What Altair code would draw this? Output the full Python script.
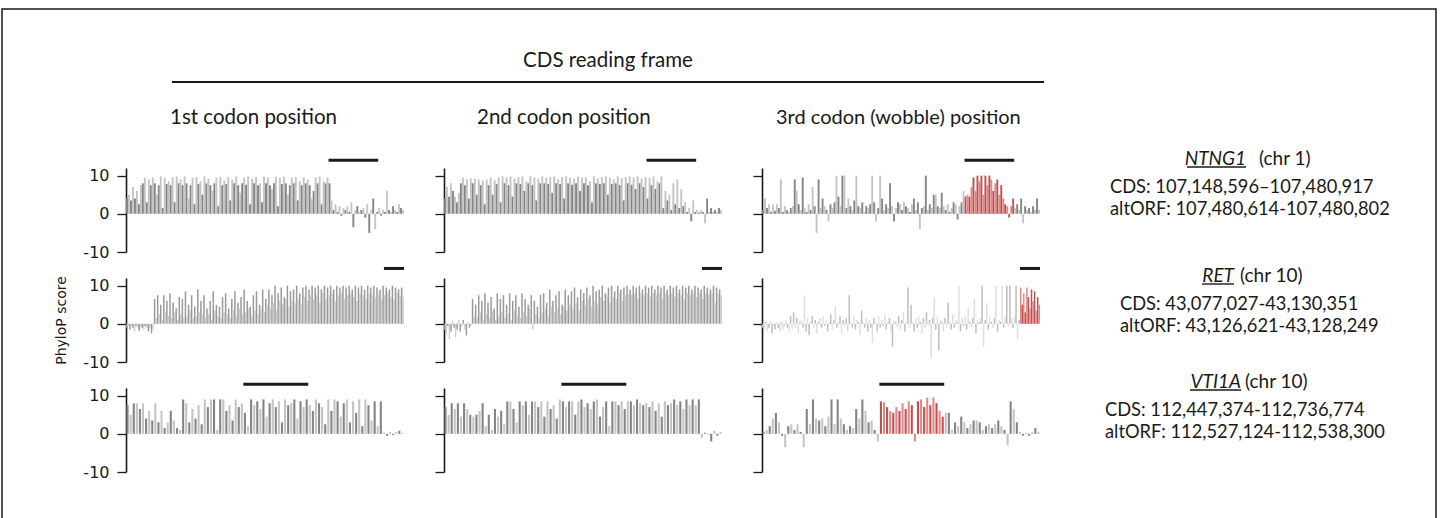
import altair as alt
import pandas as pd

# ---------------- text content ----------------
HEADER = "CDS reading frame"
COLUMN_TITLES = ["1st codon position", "2nd codon position", "3rd codon (wobble) position"]
Y_TITLE = "PhyloP score"
Y_TICKS = [-10, 0, 10]
GENES = ["NTNG1", "RET", "VTI1A"]
CHROMS = ["(chr 1)", "(chr 10)", "(chr 10)"]
CDS_TEXT = ["CDS: 107,148,596\u2013107,480,917", "CDS: 43,077,027-43,130,351", "CDS: 112,447,374-112,736,774"]
ALTORF_TEXT = ["altORF: 107,480,614-107,480,802", "altORF: 43,126,621-43,128,249", "altORF: 112,527,124-112,538,300"]
ALTORF_START = [102, 167, 38]
ALTORF_END = [126, 179, 58]

# ---------------- PhyloP scores ----------------
NTNG1_POS1 = [4, 5, 3.5, 7, 4, 6,
              2.5, 7.5, 8, 9.5, 3, 9, 7.5, 9.5, 8, 5,
              7.5, 9.8, 1.5, 9.5, 7.8, 8.5, 7.5, 9.6, 3, 9.8,
              8, 9, 7.5, 9.8, 8, 4, 7.5, 9.5, 2.5, 9.6,
              7.8, 8.5, 5, 9.8, 8, 9.2, 7.5, 6, 8, 9.5,
              2, 9.7, 7.5, 8.8, 7.8, 9.6, 3.5, 9, 8, 9.8,
              7.5, 5.5, 8, 9.5, 7.6, 9.8, 2.5, 9.2, 8, 9.6,
              7.5, 8, 3, 9.8, 8, 9.5, 7.5, 6.5, 8, 9.6,
              2, 9.4, 7.8, 9.8, 8, 5, 7.5, 9.5, 8, 9.7,
              3.5, 8.5, 7.5, 9.6, 8, 9, 7.5, 4, 6, 9.5,
              8, 9.8, 2.5, 8.5, 8, 9.5, 8,
              3.5, 1, 2.5, 0.5, 2, -0.5, 1.5, 1, 2, 0.5,
              3, -3.5, 1, 2, 0.5, 1, 1.5, -1, 2.5, -5,
              1, 4, -4, 0.5, 1.5, -0.5, 1, 0.5, 6, 1,
              0.5, 2, 1, 0.5, 2.5, 1.5, 1]
NTNG1_POS2 = [4, 7, 4.5, 8, 6, 4.5, 3, 5.5, 8, 9.5,
              7.5, 9, 4, 9.3, 8, 9.2, 5, 9, 7.5, 8.8,
              2.5, 9, 7.5, 9.5, 5, 8.8, 7.8, 9.5, 3, 9.8,
              8, 9.5, 7.5, 9.8, 4.5, 9.2, 8, 9.6, 7.8, 9.8,
              6, 8.5, 8, 9.8, 7.5, 9.5, 3.5, 9.2, 8, 9.8,
              8, 9.4, 7.8, 9.6, 5.5, 9.8, 8, 9, 7.8, 9.6,
              4, 9.8, 8, 9.5, 7.6, 9.2, 8, 9.8, 6, 9.5,
              8, 9.6, 7.5, 8.5, 3, 9.8, 8, 9.3, 7.8, 9.6,
              8, 9.8, 5, 9.5, 7.8, 9, 8, 9.8, 7.5, 9.4,
              3.5, 9.6, 8, 9.8, 7.6, 9.5, 6.5, 9.8, 8, 9.2,
              7, 9.6, 4, 9.5, 7.5, 9.8, 6.5, 8.5, 8, 9.8,
              1.5, 6, 3.5, 5, 1, 8, 2.5, 9, 1.5, 6.5, 2, 3,
              0.5, 1.5, -2, 3.5, 0.5, 1, 0.3, 1, 0.5, -2.5, 4, 0.5, 1.5, 0.5, 1, 0.5, 1.5, 1]
NTNG1_POS3 = [1, 4, 1.5, 2.5, 0.5, 2.5, 0.8, 2.5, 1.5, 9,
              0.5, 2, 1, 0.5, 1.5, 2, 9, 6, 2.5, 1,
              9.5, 1.5, 0.5, 2.5, 1, 7, 2, -5, 9, 1.5,
              4, 2, 1, -2, 2.5, 1.5, 3, 10, 4.5, 2,
              10, 10, 1.5, 4, 2, 1, 3.5, 10, 2, 1.5,
              3, 0.5, 2, 1.5, 2.5, 10, 3, -2, 1.5, 10,
              4, 1, 2.5, 1.5, 8, 2, -2, 1.5, 3, 2.5,
              1, 3, 2, 1.5, 0.5, 2.5, 4, 1, 3, -4,
              1.5, 2, 10, 1, 2.5, 1.5, 5, 5, 2, 1.5,
              5.5, 2, 1, 2.5, 0.5, 1.5, 3, 2.5, -1.5, 2,
              3, 6,
              4.5, 5, 4.5, 7, 9.5, 6, 10, 8.5, 10, 5, 10, 7.5, 10, 9, 6, 8, 9, 5, 7.5, 4, 2.5, 2, -1, 2, 4,
              1.5, 2.5, 1, 4, -2.5, 2, 1, 1.5, 0.5, 2, 1, 4, 1]

RET_POS1 = [-1, -0.5, -1.5, -0.8, -1, -2, -0.5, -1.2, -1.8, -0.8, -1, -1.5, -0.6, -1.2, -2, -1, -2.5, -1.5,
            6.5, 1.5, 7.5, 2.5, 5, 1, 7.5, 3, 6, 2, 8, 1.5,
            5.5, 3, 4, 1, 7, 2.5, 6.5, 1.5, 8.5, 2,
            5, 3.5, 7.5, 1.5, 4.5, 2, 9, 3, 6, 2.5,
            7.5, 1.5, 4, 2.5, 6, 1, 8.5, 3.5, 5, 2,
            4.5, 1.5, 7, 3, 8, 2.5, 4, 1.5, 6.5, 3.5,
            8.5, 2, 5.5, 4, 7, 2.5, 9, 3, 6, 4,
            4.5, 2, 7.5, 3.5, 8.5, 2.5, 5, 4, 9, 3,
            6.5, 5, 9, 4, 7.5, 5.5, 10, 3.5, 8, 6,
            9.5, 5, 7, 6.5, 10, 4.5, 8.5, 6, 9, 5.5,
            10, 6.5, 8, 5, 9.5, 7, 10, 6, 9, 7.5,
            10, 6.5, 9.5, 7.5, 10, 5.5, 9, 8, 10, 6.5,
            9.5, 7.5, 10, 8, 9, 6, 10, 7.5, 9.5, 8,
            10, 6.5, 9.5, 7.5, 10, 8, 9, 7, 10, 6,
            9.5, 8, 10, 7.5, 9, 6.5, 10, 8, 9.5, 7.5,
            10, 7, 9.5, 8, 9, 6.5, 10, 7.5, 9.5, 8,
            9, 7, 10, 6.5, 9.5, 8, 9, 7.5, 9.5, 7]
RET_POS2 = [-1.5, -3, -0.5, -4, -2, 0.8, -1, -3.5, -1.5, 1, -2, -0.5, 1, -1.5, -3, 0.5, -1, -0.5,
            6.5, 2, 5, 1.5, 7.5, 3, 6, 1, 8, 2.5, 5.5, 1.5,
            7, 3.5, 4, 1, 8, 2, 6.5, 3, 7.5, 1.5,
            5, 2.5, 8, 1, 6, 3.5, 7.5, 2, 4.5, 1.5,
            8, 3, 6.5, 2, 5, 4, 7.5, -1.5, 6, 2.5,
            4.5, 1.5, 7.5, 3, 8, 4, 5.5, 2, 9, 4.5,
            6, 3, 7.5, 4, 8.5, 2.5, 5, 4.5, 9, 3.5,
            7.5, 5, 8.5, 4, 9.5, 5.5, 7, 3.5, 9, 6,
            8, 5, 9.5, 6.5, 7.5, 4.5, 10, 6, 8.5, 5,
            9, 7, 10, 6, 8, 7.5, 9.5, 5.5, 10, 7,
            8.5, 6.5, 10, 8, 9, 6, 9.5, 7.5, 10, 8,
            9, 7.5, 10, 8, 9.5, 6.5, 10, 8, 9, 7.5,
            10, 8, 9.5, 7, 10, 8, 9, 7.5, 10, 8,
            9.5, 6.5, 10, 8, 9, 7.5, 10, 8, 9.5, 7,
            10, 8, 9, 7.5, 10, 6.5, 9.5, 8, 10, 7.5,
            9, 8, 10, 7, 9.5, 8, 9, 6.5, 10, 8,
            9.5, 7.5, 9, 8, 10, 5.5, 9.5, 8, 9, 7.5]
RET_POS3 = [-1, -1.5, 0.5, -2, -1, 0.8, -2.5, -0.5, -1.5, 0.5,
            -1, -2, 0.5, -1.5, -0.5, 1, -1, -2, 2, -1.5,
            3, -1, 1.5, -2.5, 0.5, 1, -1, 7.5, -2, 1.5,
            -3, 0.5, 2, -1, 1, -2.5, 0.5, 1.5, -1, 2,
            -0.5, 1, -2, 0.5, 2.5, -1.5, 1, 4.5, -1, 0.5,
            2, -2.5, 1, -0.5, 1.5, -2, 7.5, 0.5, -1, 2,
            -1.5, 1, 0.5, -3, 3.5, 0.5, -1, 1.5, -2, 1,
            -1, -5, 1.5, 0.5, -2, 2, -1, 1, -0.5, 2.5,
            -1.5, 0.5, 1.5, -2, -6, 1, 0.5, -1, 2, -1.5,
            1, 3, -2, 0.5, 9.5, -1, 5, 0.5, -2, 1.5,
            -1, 2, 0.5, -2.5, 1.5, -1, 3, -0.5, 1, -9,
            1.5, 7, -1.5, 2, -7, 1, 0.5, -2, 1.5, -1,
            5.5, 0.5, -1.5, 2.5, -1, 1, 0.5, 10, -2, 1.5,
            -0.5, 2, -1.5, 4, 0.5, -1, 1.5, 6.5, -2.5, 1,
            0.5, 1.5, 10, -6, 1, 5.5, -1.5, 2, 0.5, -1,
            1.5, 10, -2, 1, 0.5, 10, -1, 2, 10, -0.5,
            10, 1.5, -1, 2, 10, -4, 1,
            9.5, 5, 8, 3, 9.5, 7, 4, 9, 6, 8.5, 3.5, 7, 5]

VTI1A_POS1 = [7.5, 5, 8, 8, 6.5, 8, 4, 6, 3.5, 8,
              3, 6, 1.5, 3, 6, 3.5, 1.5, 1, 9, 8,
              3, 6.5, 4, 7.5, 2.5, 9, 7, 9, 9, 1,
              9, 9, 6, 7.5, 3.5, 9, 7, 8, 5.5, 2,
              9, 7.5, 8.5, 6.5, 9, 4.5, 8, 9, 7, 8.5,
              3, 9, 7.5, 8, 9, 4, 8.5, 7, 9, 7.5,
              6, 9, 8, 7, 2.5, 9, 6, 9, 8.5, 4.5,
              8, 9, 3, 8.5, 5.5, 9, 2, 9, 7.5, 3.5,
              8.5, 2, 8.5,
              0.3, -0.5, 0.5, -0.3, 0.5, 0.8, 0.3]
VTI1A_POS2 = [7, 5, 8, 6.5, 8, 4.5, 8, 6.5, 5, 4.5,
              5, 6, 8, 2, 5, 1, 6.5, 4.5, 6, 2.5,
              8.5, 8.5, 6.5, 3, 8.5, 7.5, 8.5, 5, 8.5, 8.5,
              7, 8.5, 4.5, 8.5, 6.5, 7.5, 4, 9, 8.5, 7,
              8.5, 8.5, 5, 8.5, 9, 7, 8, 6.5, 8.5, 9,
              4.5, 7, 8.5, 2, 8.5, 8.5, 7.5, 8.5, 6.5, 8.5,
              8.5, 7.5, 9, 8, 7.5, 8, 7, 8.5, 6, 8,
              4.5, 8.5, 7.5, 8, 9, 7.5, 8.5, 6.5, 9, 7.5,
              9, 7.5, 9,
              -1, 0.3, -0.3, -2, 0.8, -0.5, 0.5]
VTI1A_POS3 = [0.5, 1, 2, 4, 5.5, 3, -0.5, -3.5, 2, 2.5,
              1, 2.5, 0.5, -3.5, 6.5, 2.5, 9, 4, 3.5, 4,
              2, 4.5, 9, 2.5, 9, 4, 2.5, 1, 2, 1.5,
              6.5, 4, 9, 6, 3, 3.5, 1, -2,
              8.5, 8.3, 7, 6, 5.5, 7, 6, 8, 6.5, 8.5, 7.5, -2, 8.5, 9, 7, 9.5, 7.5, 9.5, 8, 6, 4.5,
              5.5, 5.5, 1, 3, 2, 4.5, 3, 1.5, 2.5, 3.5,
              3.5, 3, 1, 2, 2.5, 1.5, 2.5, 3.5, 2, 1,
              -3, 8.5, 6.5, 3, 0.5, -0.5, 0.3, -0.5, 0.5, 1.5, 0.5]

SCORES = [[NTNG1_POS1, NTNG1_POS2, NTNG1_POS3],
          [RET_POS1, RET_POS2, RET_POS3],
          [VTI1A_POS1, VTI1A_POS2, VTI1A_POS3]]

# ---------------- styling ----------------
INK = "#1a1a1a"
LABEL_FONT = "DejaVu Sans"
TEXT_FONT = "Lato"
PANEL_W, PANEL_H = 278, 84
ROW_GAP, COL_GAP = 26, 40
GRAY = [("#858585", "#c4c4c4"), ("#9a9a9a", "#cfcfcf"), ("#858585", "#c4c4c4")]
FAINT = ("#bdbdbd", "#dedede")
RED = ("#c0504d", "#e08888")
STROKE = [1.9, 1.5, 2.1]
MARK_LEVEL = [14, 14.5, 13]

one = pd.DataFrame({"k": [0]})


def txt(s, x, y, align="left", size=18, style="normal", baseline="alphabetic"):
    return alt.Chart(one).mark_text(text=s, font=TEXT_FONT, fontSize=size, fontStyle=style,
                                    align=align, baseline=baseline, color=INK).encode(
        x=alt.value(x), y=alt.value(y))


def hline(x1, x2, y, w):
    return alt.Chart(one).mark_rule(color=INK, strokeWidth=w).encode(
        x=alt.value(x1), x2=alt.value(x2), y=alt.value(y))


def header_layers():
    # positioned relative to the top-left panel's plot origin
    frame = alt.Chart(one).mark_rect(fillOpacity=0, stroke=INK, strokeWidth=1.5).encode(
        x=alt.value(-124), x2=alt.value(1310), y=alt.value(-159), y2=alt.value(400))
    return [frame,
            txt(HEADER, 482, -107, align="center", baseline="middle", size=20.5),
            hline(46, 918, -86, 2),
            txt(COLUMN_TITLES[0], 44, -50, baseline="middle", size=20.5),
            txt(COLUMN_TITLES[1], 351, -50, baseline="middle", size=20.5),
            txt(COLUMN_TITLES[2], 650, -50, baseline="middle", size=20)]


def panel(gi, ci):
    vals = SCORES[gi][ci]
    n = len(vals)
    colors = []
    for i in range(n):
        par = i % 2
        if ci == 2 and ALTORF_START[gi] <= i <= ALTORF_END[gi]:
            colors.append(RED[par])
        elif gi == 1 and ci == 2:
            colors.append(FAINT[par])
        else:
            colors.append(GRAY[gi][par])
    df = pd.DataFrame({"pos": list(range(n)), "score": vals, "zero": [0] * n, "col": colors})
    title = Y_TITLE if (gi == 1 and ci == 0) else None
    yaxis = alt.Axis(values=Y_TICKS, labels=(ci == 0), labelExpr="datum.value", grid=False,
                     tickSize=9, tickWidth=1.3, tickColor=INK, domainColor=INK, domainWidth=1.6,
                     labelFont=LABEL_FONT, labelFontSize=16, labelColor=INK, labelPadding=8,
                     title=title, titleFont=LABEL_FONT, titleFontSize=14, titleFontWeight="normal",
                     titleColor=INK, titlePadding=14)
    xs = alt.Scale(domain=[-0.5, n - 0.5], nice=False, zero=False)
    ys = alt.Scale(domain=[-10, 12], nice=False, zero=False)
    bars = alt.Chart(df).mark_rule(strokeWidth=STROKE[gi]).encode(
        x=alt.X("pos:Q", scale=xs, axis=None),
        y=alt.Y("score:Q", scale=ys, axis=yaxis),
        y2="zero",
        color=alt.Color("col:N", scale=None),
    )
    mdf = pd.DataFrame({"s": [ALTORF_START[gi] - 0.5], "e": [ALTORF_END[gi] + 0.5],
                        "score": [MARK_LEVEL[gi]]})
    marker = alt.Chart(mdf).mark_rule(strokeWidth=3, color=INK).encode(
        x=alt.X("s:Q", scale=xs, axis=None),
        x2="e",
        y=alt.Y("score:Q", scale=ys, axis=yaxis),
    )
    layers = [bars, marker]
    if gi == 0 and ci == 0:
        layers += header_layers()
    return alt.layer(*layers).properties(width=PANEL_W, height=PANEL_H)


# right-hand annotation, relative to each row's top-left
GENE_RIGHT = [166, 154, 161]
GENE_WIDTH = [59, 32, 51]
CHR_LEFT = [179, 160, 165]
LINE_LEFT = [30, 40, 25]
TITLE_BASE = [-3, 4, 0]


def annotation(gi):
    b = TITLE_BASE[gi]
    layers = [
        txt(GENES[gi], GENE_RIGHT[gi], b, align="right", style="italic", size=19),
        txt(CHROMS[gi], CHR_LEFT[gi], b, size=19),
        hline(GENE_RIGHT[gi] - GENE_WIDTH[gi], GENE_RIGHT[gi], b + 2, 1.4),
        txt(CDS_TEXT[gi], LINE_LEFT[gi], b + 28, size=18.3),
        txt(ALTORF_TEXT[gi], LINE_LEFT[gi], b + 50, size=18.3),
    ]
    return alt.layer(*layers).properties(width=340, height=PANEL_H)


cells = []
for gi in range(3):
    for ci in range(3):
        cells.append(panel(gi, ci))
    cells.append(annotation(gi))

chart = alt.concat(*cells, columns=4, spacing={"row": ROW_GAP, "column": COL_GAP},
                   bounds="flush").properties(
    padding={"left": 1, "top": 8, "right": 3, "bottom": 0},
    background="white",
).configure_view(stroke=None)

chart.save("out.html", embed_options={"renderer": "svg", "actions": False})
